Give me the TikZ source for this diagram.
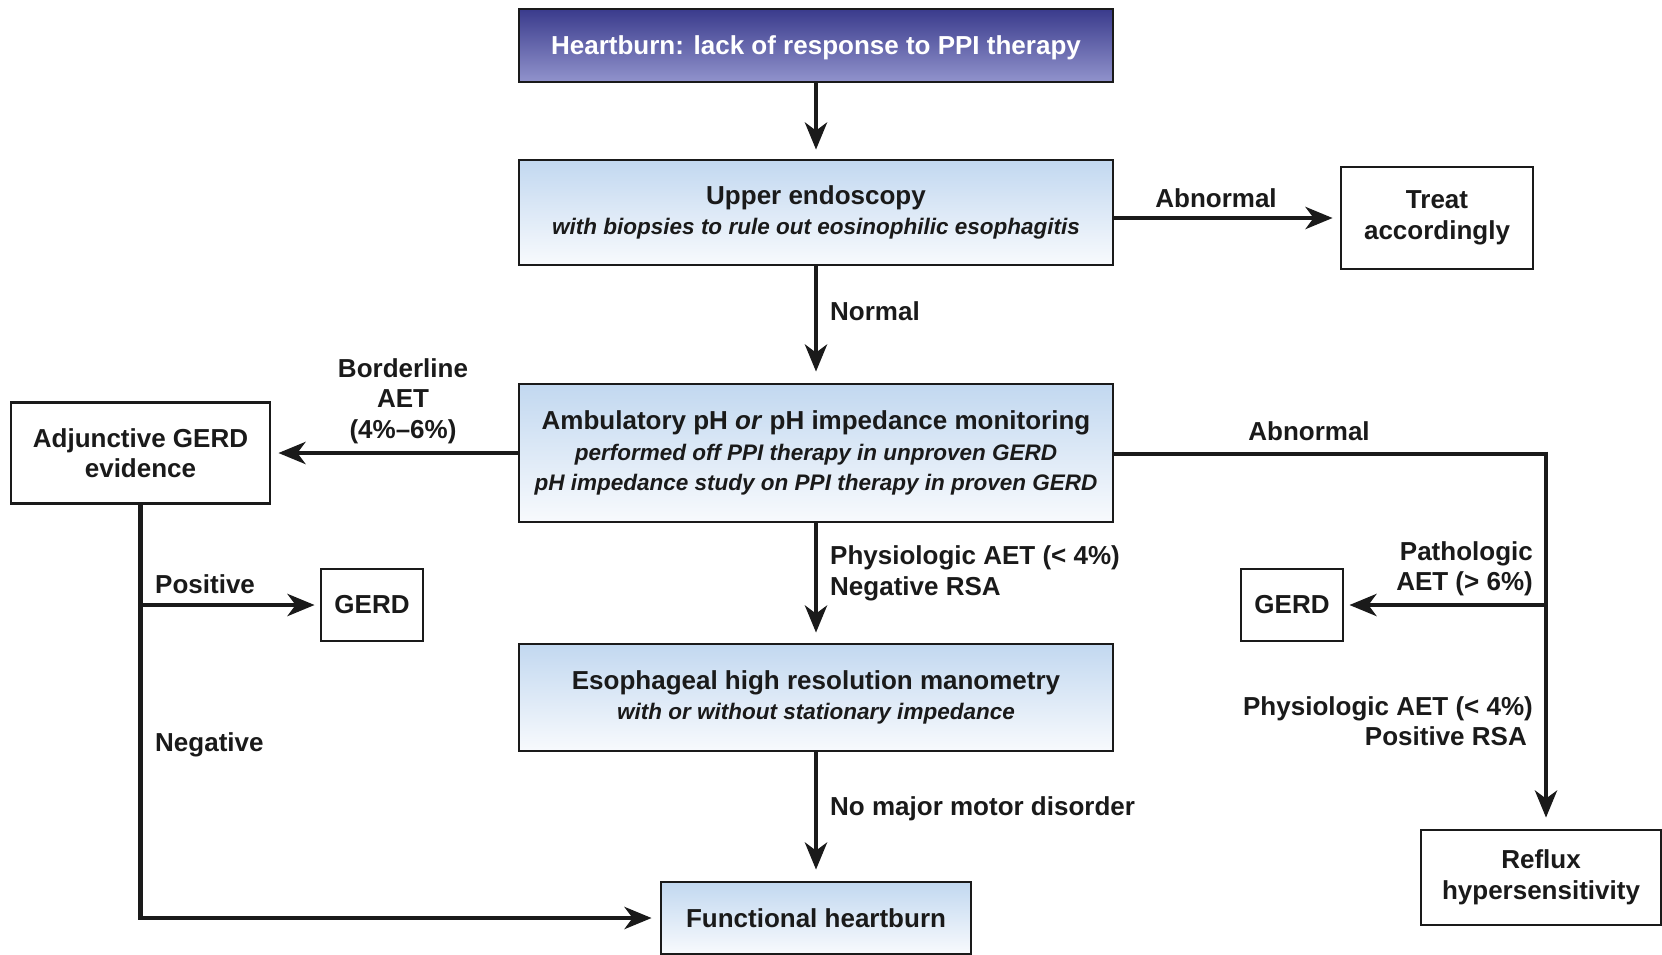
\documentclass[tikz,border=0pt]{standalone}
\usepackage{fontspec}
\setmainfont{Liberation Sans}
\usetikzlibrary{arrows.meta}
\definecolor{ink}{HTML}{1A1A1A}
\definecolor{navyT}{HTML}{3A3B8C}
\definecolor{navyB}{HTML}{9193CC}
\definecolor{lbT}{HTML}{C2D8F0}
\definecolor{lbB}{HTML}{F8FAFD}
\newcommand{\mainf}{\bfseries\fontsize{26}{30.5}\selectfont}
\newcommand{\subf}{\bfseries\itshape\fontsize{22.5}{30.5}\selectfont}
\begin{document}
\begin{tikzpicture}[x=1pt,y=-1pt,
  box/.style={draw=ink, line width=2.8pt, align=center, inner sep=0pt, font=\mainf, text=ink},
  hl/.style={box, top color=lbT, bottom color=lbB},
  arr/.style={line width=4.8pt, draw=ink, -{Stealth[length=27pt,width=22pt,inset=8pt]}},
  lin/.style={line width=4.8pt, draw=ink},
  lab/.style={font=\mainf, text=ink, inner sep=0pt}
]
\useasboundingbox (0,0) rectangle (1662,954);
% boxes
\node[box, top color=navyT, bottom color=navyB, text=white, text depth=0pt, minimum width=594pt, minimum height=73pt] (top) at (816,45.5) {Heartburn: lack of response to PPI therapy};
\node[hl, minimum width=594pt, minimum height=105pt] (upper) at (816,212.5) {Upper endoscopy\\{\subf with biopsies to rule out eosinophilic esophagitis}};
\node[box, fill=white, minimum width=192pt, minimum height=102pt] (treat) at (1437,218) {Treat\\accordingly};
\node[hl, minimum width=594pt, minimum height=138pt] (amb) at (816,453) {Ambulatory pH \textit{or} pH impedance monitoring\\{\subf performed off PPI therapy in unproven GERD}\\{\subf pH impedance study on PPI therapy in proven GERD}};
\node[box, fill=white, minimum width=259pt, minimum height=101pt] (adj) at (140.5,453) {Adjunctive GERD\\evidence};
\node[box, fill=white, minimum width=102pt, minimum height=72pt] (gerdL) at (372,605) {GERD};
\node[box, fill=white, minimum width=102pt, minimum height=72pt] (gerdR) at (1292,605) {GERD};
\node[hl, minimum width=594pt, minimum height=107pt] (eso) at (816,697.5) {Esophageal high resolution manometry\\{\subf with or without stationary impedance}};
\node[hl, minimum width=310pt, minimum height=72pt] (fh) at (816,918) {Functional heartburn};
\node[box, fill=white, minimum width=240pt, minimum height=95pt] (reflux) at (1541,877.5) {Reflux\\hypersensitivity};
% corner coordinates
\coordinate (rt) at (1546,454);
\coordinate (rb) at (1546,605);
\coordinate (lb) at (140.5,605);
% connectors
\draw[arr, shorten >=9pt] (top) -- (upper);
\draw[arr, shorten >=7pt] (upper.east |- treat.west) -- (treat.west);
\draw[arr, shorten >=11pt] (upper) -- (amb);
\draw[arr, shorten >=7pt] (amb.west) -- (adj.east |- amb.west);
\draw[lin] (amb.east |- rt) -- ([xshift=2.4pt]rt);
\draw[arr, shorten >=11pt] ([yshift=2.4pt]rt) -- (rt |- reflux.north);
\draw[arr, shorten >=5pt] (rb) -- (gerdR.east);
\draw[arr, shorten >=10pt] (amb) -- (eso);
\draw[arr, shorten >=11pt] (eso) -- (fh);
\draw[arr, shorten >=8pt] (adj.south) |- (fh.west);
\draw[arr, shorten >=5pt] (lb) -- (gerdL.west);
% labels
\node[lab] (l1) at (1216,198) {Abnormal};
\node[lab, anchor=west] (l2) at (830,311) {Normal};
\node[lab, align=center] (l3) at (403,401) {Borderline\\AET\\(4\%–6\%)};
\node[lab] (l4) at (1309,431) {Abnormal};
\node[lab, align=right, anchor=east] (l5) at (1533,569) {Pathologic\\AET (> 6\%)};
\node[lab, align=right, anchor=east] (l6) at (1533,721) {Physiologic AET (< 4\%)\\Positive RSA\hspace*{6pt}};
\node[lab, align=left, anchor=west] (l7) at (830,573.5) {Physiologic AET (< 4\%)\\Negative RSA};
\node[lab, anchor=west] (l8) at (830,809) {No major motor disorder};
\node[lab, anchor=west] (l9) at (155,584) {Positive};
\node[lab, anchor=west] (l10) at (155,745) {Negative};
\end{tikzpicture}
\end{document}
